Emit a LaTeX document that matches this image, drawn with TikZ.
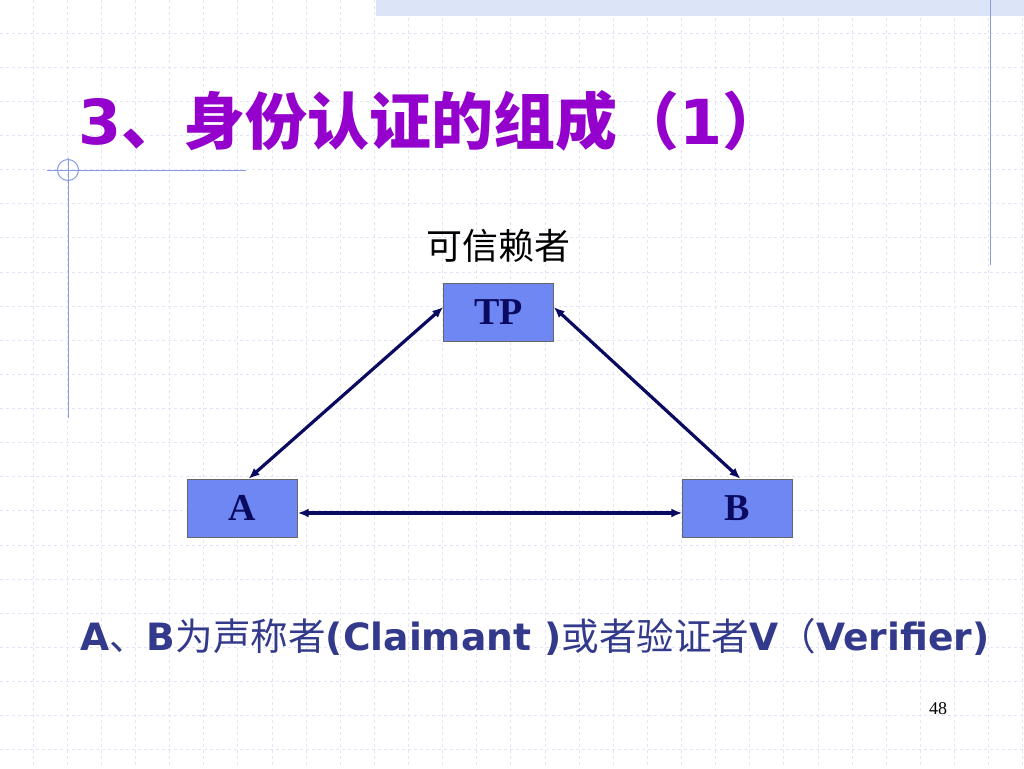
\documentclass[tikz,border=0pt]{standalone}
\usepackage{fontspec}
\setmainfont{Liberation Serif}
\newfontfamily\cjk{Noto Sans CJK SC}
\newfontfamily\verd{DejaVu Sans}
\usetikzlibrary{positioning,arrows.meta}
\definecolor{gridc}{HTML}{E4E4F8}
\definecolor{decoc}{HTML}{8A9BE0}
\definecolor{bandc}{HTML}{DCE4F8}
\definecolor{titlec}{HTML}{9400CC}
\definecolor{boxc}{HTML}{6F87F2}
\definecolor{arrc}{HTML}{0A0A60}
\definecolor{capc}{HTML}{333A8C}

\begin{document}
\begin{tikzpicture}[
    x=1pt, y=-1pt,
    party/.style={rectangle, fill=boxc, draw=black!60, thin, minimum width=110pt, minimum height=58pt,
    font=\fontsize{38}{38}\selectfont\bfseries, text=arrc, inner sep=0pt},
    link/.style={{Latex[length=11pt,width=9pt]}-{Latex[length=11pt,width=9pt]}, draw=arrc, line width=3.2pt}
    ]
\useasboundingbox (0,0) rectangle (1024,768);
\fill[white] (0,0) rectangle (1024,768);

% background grid
\foreach \k in {0,...,29} {
    \draw[gridc, dashed, line width=0.8pt] (33+34.13*\k,0) -- (33+34.13*\k,768);
    \draw[gridc, dashed, line width=0.8pt] (0,33+34.13*\k) -- (1024,33+34.13*\k);
}

% slide decoration
\fill[bandc] (376,0) rectangle (1024,16);
\draw[decoc, line width=1pt] (990,0) -- (990,265);
\draw[decoc, line width=1pt] (68,158) -- (68,418);
\draw[decoc, line width=1pt] (47,170) -- (246,170);
\draw[decoc, line width=1pt] (68,170) circle (10.5);

% title
\node[anchor=west, text=titlec, inner sep=0pt] (title) at (78,121)
    {\fontsize{62}{62}\selectfont\bfseries{\verd 3}{\cjk 、身份认证的组成（}{\verd 1}{\cjk ）}};

% parties
\node[party] (tp) at (498.5,312) {TP};
\node[party] (a) at (242.5,508) {A};
\node[party] (b) at (737.5,508) {B};
\node[above=20pt of tp, inner sep=0pt] (trusted) {\fontsize{36}{36}\selectfont\cjk 可信赖者};

\draw[link] ([yshift=5pt]tp.west) -- ([xshift=6pt]a.north);
\draw[link] ([yshift=5pt]tp.east) -- ([xshift=3pt]b.north);
\draw[link] ([yshift=-5pt]a.east) -- ([yshift=-5pt]b.west);

% caption
\node[anchor=west, text=capc, inner sep=0pt] (caption) at (80,637)
    {\fontsize{37.6}{38}\selectfont{\verd\bfseries A}{\cjk 、}{\verd\bfseries B}{\cjk 为声称者}{\verd\bfseries (Claimant )}{\cjk 或者验证者}{\verd\bfseries V}{\cjk （}{\verd\bfseries Verifier)}};

\node[inner sep=0pt] (page) at (938,709) {\fontsize{18}{18}\selectfont 48};
\end{tikzpicture}
\end{document}
